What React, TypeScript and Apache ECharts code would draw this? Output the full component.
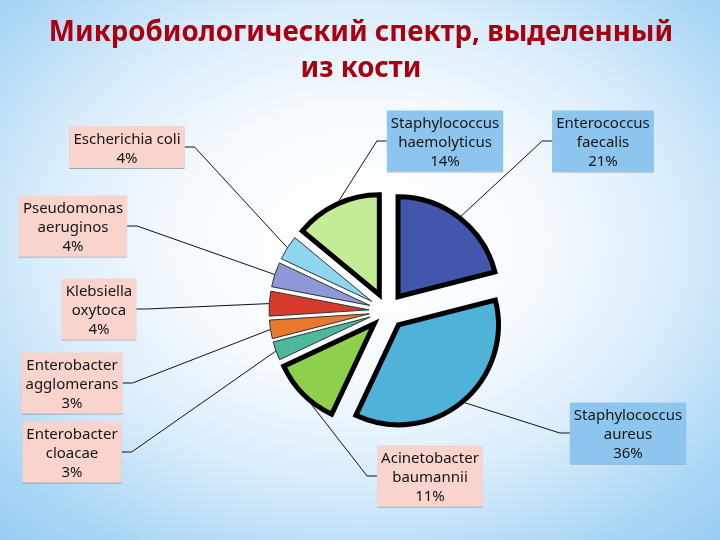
import React, { useEffect, useRef } from "react";
import * as echarts from "echarts";

const titleText = "Микробиологический спектр, выделенный\nиз кости";

const categories = [
  "Enterococcus\nfaecalis",
  "Staphylococcus\naureus",
  "Acinetobacter\nbaumannii",
  "Enterobacter\ncloacae",
  "Enterobacter\nagglomerans",
  "Klebsiella\noxytoca",
  "Pseudomonas\naeruginos",
  "Escherichia coli",
  "Staphylococcus\nhaemolyticus",
];

const values = [21, 36, 11, 3, 3, 4, 4, 4, 14];

const sliceColors = [
  "#4356ae",
  "#4fb2d8",
  "#8ecf4c",
  "#4db89c",
  "#e8792c",
  "#d63b2c",
  "#8e98d6",
  "#8ed5f0",
  "#c3ec97",
];

const majorSlices = [true, true, true, false, false, false, false, false, true];
const blueLabels = [true, true, false, false, false, false, false, false, true];

// label box centres (layout, not data)
const labelCenters: [number, number][] = [
  [603, 141],
  [628, 433],
  [430, 476],
  [72, 452],
  [72, 383],
  [99, 309],
  [73, 226],
  [127, 147],
  [445, 141],
];

const PIE_CX = 387;
const PIE_CY = 311;
const PIE_R = 100;
const EXPLODE = 18;

export default function App() {
  const ref = useRef<HTMLDivElement>(null);

  useEffect(() => {
    if (!ref.current) return;
    const chart = echarts.init(ref.current, undefined, { renderer: "svg" });
    const total = values.reduce((a, b) => a + b, 0);
    let cum = 0;
    const series = categories.map((name, i) => {
      const startDeg = (cum / total) * 360;
      cum += values[i];
      const endDeg = (cum / total) * 360;
      const mid = ((startDeg + endDeg) / 2) * (Math.PI / 180);
      const cx = PIE_CX + EXPLODE * Math.sin(mid);
      const cy = PIE_CY - EXPLODE * Math.cos(mid);
      return {
        type: "pie",
        name,
        center: [cx, cy],
        radius: [0, PIE_R],
        startAngle: 90 - startDeg,
        endAngle: 90 - endDeg,
        clockwise: true,
        avoidLabelOverlap: false,
        silent: true,
        emphasis: { disabled: true },
        data: [
          {
            name,
            value: values[i],
            itemStyle: {
              color: sliceColors[i],
              borderColor: majorSlices[i] ? "#000000" : "#333333",
              borderWidth: majorSlices[i] ? 5 : 1,
              borderJoin: "miter",
            },
          },
        ],
        label: {
          show: true,
          formatter: "{b}\n{c}%",
          fontFamily: "Noto Sans",
          fontSize: 15,
          lineHeight: 19,
          color: "#161616",
          align: "center",
          padding: [2, 4, 2, 4],
          backgroundColor: blueLabels[i] ? "#8dc5ef" : "#f8d4cd",
          shadowColor: "rgba(0,0,0,0.3)",
          shadowOffsetY: 1,
          shadowBlur: 0,
        },
        labelLine: {
          show: true,
          length: 10,
          length2: 10,
          lineStyle: { color: "#111111", width: 1 },
        },
        labelLayout: () => {
          const c = labelCenters[i];
          return {
            x: c[0],
            y: c[1],
            align: "center",
            verticalAlign: "middle",
          };
        },
      };
    });

    chart.setOption({
      animation: false,
      backgroundColor: {
        type: "radial",
        x: 0.5,
        y: 0.45,
        r: 0.8,
        colorStops: [
          { offset: 0, color: "#ffffff" },
          { offset: 0.3, color: "#f7fbfe" },
          { offset: 0.55, color: "#daedfb" },
          { offset: 0.8, color: "#a9d6f6" },
          { offset: 1, color: "#8fc8f3" },
        ],
      },
      title: {
        text: titleText,
        left: 356,
        top: 7,
        textAlign: "center",
        textStyle: {
          fontFamily: "Noto Sans",
          fontWeight: "bold",
          fontSize: 27.7,
          lineHeight: 36,
          color: "#a8000e",
        },
      },
      series,
    });
    return () => chart.dispose();
  }, []);

  return (
    <div
      ref={ref}
      style={{ position: "fixed", left: 0, top: 0, width: 720, height: 540 }}
    />
  );
}
